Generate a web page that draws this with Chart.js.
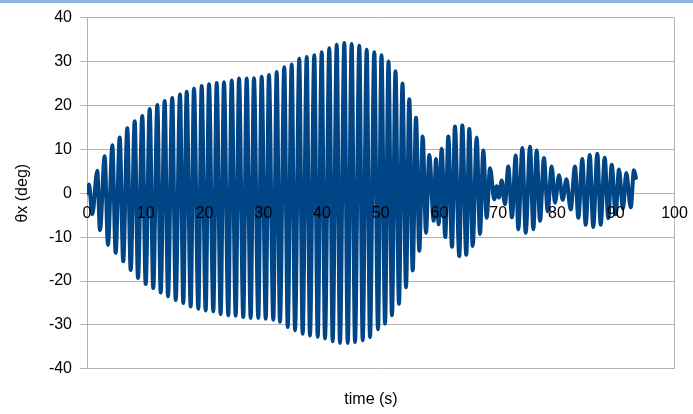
<!DOCTYPE html>
<html>
<head>
<meta charset="utf-8">
<script src="https://cdn.jsdelivr.net/npm/chart.js@4/dist/chart.umd.min.js"></script>
<style>
  html, body { margin: 0; padding: 0; background: #fff; }
  #wrap { position: relative; width: 693px; height: 414px; }
  #topbar { position: absolute; left: 0; top: 0; width: 693px; height: 3px; background: #8db3e2; }
</style>
</head>
<body>
<div id="wrap">
  <canvas id="angleChart" width="693" height="414"></canvas>
  <div id="topbar"></div>
</div>
<script>
// time of each turning point (s)
const time = [0, 0.34, 0.90, 1.75, 2.21, 3.01, 3.57, 4.31, 4.88, 5.57, 6.17, 6.86, 7.44, 8.12, 8.68, 9.41, 9.99,
  10.67, 11.28, 11.97, 12.55, 13.22, 13.79, 14.51, 15.10, 15.83, 16.39, 16.97, 17.65, 18.21, 18.95, 19.52,
  20.20, 20.77, 21.50, 22.08, 22.75, 23.32, 24.05, 24.63, 25.31, 25.88, 26.60, 27.18, 27.86, 28.42, 29.16, 29.73,
  30.42, 30.97, 31.71, 32.29, 32.85, 33.58, 34.17, 34.84, 35.41, 36.13, 36.71, 37.40, 37.95, 38.69, 39.27,
  39.95, 40.51, 41.24, 41.82, 42.51, 43.06, 43.80, 44.38, 45.05, 45.62, 46.35, 46.93, 47.61, 48.17, 48.90, 49.53,
  50.13, 50.73, 51.32, 51.91, 52.51, 53.10, 53.70, 54.30, 54.86, 55.44, 56.00, 56.56, 57.14, 57.70, 58.26, 59.02, 59.40,
  59.86, 60.37, 60.98, 61.50, 62.13, 62.63, 63.37, 63.88, 64.56, 65.07, 65.65, 66.33, 66.89, 67.46, 68.03, 68.60,
  69.33, 69.73, 70.13, 70.59, 71.14, 71.71, 72.34, 72.97, 73.41, 74.10, 74.67, 75.41, 75.97, 76.54, 77.11, 77.78,
  78.42, 79.10, 79.66, 80.34, 80.97, 81.61, 82.33, 83.06, 83.63, 84.31, 84.88, 85.57, 86.17, 86.86, 87.44, 88.12,
  88.73, 89.31, 89.99, 90.55, 91.23, 91.79, 92.55, 93.10, 93.44];

// angle at those points (deg): alternating peaks and troughs
const thetaX = [0, 2.0, -4.8, 5.1, -8.4, 8.4, -11.8, 10.9, -13.6, 12.7, -15.5, 14.8, -17.5, 16.4, -19.3, 17.6, -20.7,
  19.2, -21.6, 20.1, -22.6, 21.0, -23.5, 21.7, -24.3, 22.5, -25.0, 23.1, -25.8, 23.8, -26.3, 24.4,
  -26.7, 24.8, -26.9, 25.1, -27.5, 25.3, -27.8, 25.7, -27.9, 26.1, -28.2, 26.1, -28.4, 26.2, -28.4, 26.5,
  -28.6, 26.9, -28.8, 27.6, -29.3, 28.7, -30.5, 29.3, -31.2, 30.6, -32.0, 31.0, -32.4, 31.4, -32.7,
  32.1, -33.1, 33.0, -33.7, 33.8, -34.1, 34.2, -34.1, 34.0, -33.9, 33.6, -33.5, 32.7, -32.8, 32.1, -31.0,
  31.4, -29.7, 30.0, -27.8, 27.8, -25.2, 25.0, -21.4, 21.4, -17.6, 17.2, -13.1, 12.9, -9.0, 8.7, -6.3, 7.8,
  -7.1, 10.1, -10.0, 12.9, -12.2, 15.2, -14.3, 15.4, -14.0, 14.6, -12.0, 12.7, -9.3, 9.7, -5.6, 5.7,
  -1.4, 1.6, -1.0, 2.9, -2.5, 6.1, -5.5, 8.6, -8.2, 10.3, -9.0, 10.6, -8.2, 9.7, -6.3, 8.0,
  -4.1, 6.1, -2.2, 4.1, -1.5, 3.2, -3.7, 6.1, -5.6, 7.8, -7.2, 8.7, -7.7, 9.0, -7.2, 8.1,
  -5.7, 6.5, -4.8, 5.4, -3.5, 4.6, -3.2, 5.2, 3.5];

const xTicks = { min: 0, max: 100, step: 10 };
const yTicks = { min: -40, max: 40, step: 10 };

const gridGray = "#b3b3b3";
const font = { family: "'Liberation Sans', Arial, sans-serif", size: 16 };

const n = Math.min(time.length, thetaX.length);
const points = [];
for (let i = 0; i < n; i++) points.push({ x: time[i], y: thetaX[i] });

const ctx = document.getElementById("angleChart");

new Chart(ctx, {
  type: "line",
  data: {
    datasets: [{
      data: points,
      borderColor: "#004586",
      borderWidth: 4,
      pointRadius: 0,
      cubicInterpolationMode: "monotone",
      borderJoinStyle: "round",
      borderCapStyle: "round",
      fill: false
    }]
  },
  options: {
    responsive: false,
    animation: false,
    events: [],
    layout: { padding: { left: 49, right: 0, top: 15, bottom: 5 } },
    plugins: {
      legend: { display: false },
      tooltip: { enabled: false },
      title: {
        display: true,
        position: "bottom",
        text: "time (s)",
        color: "#000",
        font: { ...font, weight: "normal" },
        padding: { top: 21, bottom: 0 }
      }
    },
    scales: {
      x: {
        type: "linear",
        min: xTicks.min,
        max: xTicks.max,
        position: { y: 0 },
        afterFit: s => { s.height = 0; },
        // labels sit on the zero line and are painted over the trace
        ticks: { stepSize: xTicks.step, color: "#000", font, padding: 0, z: 1, maxRotation: 0, autoSkip: false },
        grid: {
          drawTicks: true,
          tickLength: 11,
          tickColor: "rgba(0,0,0,0)",
          color: c => (c.tick && c.tick.value === xTicks.max ? gridGray : "rgba(0,0,0,0)")
        },
        border: { display: false }
      },
      y: {
        min: yTicks.min,
        max: yTicks.max,
        afterFit: s => { s.width = 38; },
        ticks: { stepSize: yTicks.step, color: "#000", font, padding: 8 },
        grid: { color: gridGray, tickLength: 7 },
        border: { color: gridGray },
        title: {
          display: true,
          text: "θx (deg)",
          color: "#000",
          font,
          padding: { top: -35.6, bottom: 0 }
        }
      },
      // empty spacer on the right so the bottom title centres like the original
      yRight: {
        position: "right",
        afterFit: s => { s.width = 18.5; },
        ticks: { display: false },
        grid: { display: false, drawTicks: false },
        border: { display: false }
      }
    }
  }
});
</script>
</body>
</html>
